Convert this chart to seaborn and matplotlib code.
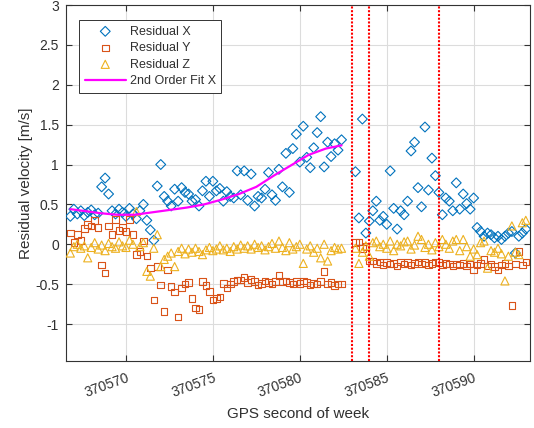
import numpy as np
import pandas as pd
import matplotlib
matplotlib.use("Agg")
import matplotlib.pyplot as plt
import seaborn as sns

# ---- data -------------------------------------------------------------
# epochs: two contiguous 5 Hz blocks separated by a short outage
block_a_start, block_a_len = 370566.8, 79
block_b_start, block_b_len = 370583.2, 50
sample_step = 0.2

res_x_a = [0.35, 0.44, 0.38, 0.42, 0.36,
           0.40, 0.43, 0.37, 0.39, 0.72,
           0.83, 0.63, 0.42, 0.38, 0.44,
           0.40, 0.35, 0.45, 0.38, 0.32,
           0.42, 0.50, 0.30, 0.18, 0.05,
           0.73, 1.00, 0.60, 0.54, 0.48,
           0.69, 0.54, 0.71, 0.65, 0.63,
           0.54, 0.56, 0.48, 0.67, 0.79,
           0.60, 0.79, 0.67, 0.70, 0.54,
           0.66, 0.60, 0.58, 0.92, 0.62,
           0.92, 0.55, 0.88, 0.48, 0.60,
           0.58, 0.69, 0.90, 0.62, 0.55,
           0.94, 0.72, 1.14, 0.65, 1.20,
           1.38, 1.03, 1.48, 1.09, 0.96,
           1.21, 1.40, 1.60, 0.97, 1.28,
           1.10, 1.26, 1.18, 1.31]
res_y_a = [0.14, 0.02, 0.12, 0.05, 0.20,
           0.25, 0.23, 0.30, 0.21, -0.26,
           -0.36, 0.23, 0.12, 0.31, 0.17,
           0.21, 0.16, 0.31, 0.12, -0.13,
           -0.09, 0.04, -0.15, -0.30, -0.70,
           -0.28, -0.51, -0.84, -0.32, -0.53,
           -0.60, -0.91, -0.55, -0.50, -0.48,
           -0.68, -0.80, -0.82, -0.47, -0.52,
           -0.59, -0.70, -0.68, -0.66, -0.49,
           -0.55, -0.50, -0.47, -0.45, -0.45,
           -0.42, -0.48, -0.44, -0.47, -0.51,
           -0.49, -0.46, -0.48, -0.50, -0.47,
           -0.39, -0.47, -0.46, -0.48, -0.50,
           -0.47, -0.49, -0.46, -0.48, -0.51,
           -0.49, -0.50, -0.47, -0.34, -0.50,
           -0.48, -0.52, -0.50, -0.50]
res_z_a = [-0.11, -0.03, 0.00, -0.05, -0.02,
           -0.17, -0.04, 0.02, -0.06, -0.01,
           -0.08, 0.01, -0.03, -0.05, 0.03,
           -0.02, -0.04, 0.05, 0.00, 0.41,
           -0.03, 0.02, -0.34, -0.40, -0.05,
           0.12, -0.28, -0.19, -0.15, -0.11,
           -0.28, -0.09, -0.05, -0.12, -0.06,
           -0.10, -0.05, -0.09, -0.13, -0.07,
           -0.04, -0.08, -0.06, -0.02, -0.07,
           -0.05, -0.09, -0.03, -0.06, -0.01,
           -0.05, -0.02, -0.06, 0.00, -0.04,
           -0.02, -0.07, -0.03, 0.01, -0.05,
           0.04, -0.04, -0.08, 0.02, -0.06,
           -0.03, 0.00, -0.24, -0.06, -0.02,
           -0.10, -0.05, -0.17, 0.00, -0.21,
           -0.08, -0.04, -0.06, -0.05]

res_x_b = [0.91, 0.33, 1.57, 0.14, 0.29,
           0.42, 0.54, 0.30, 0.35, 0.25,
           0.92, 0.45, 0.19, 0.42, 0.37,
           0.54, 1.17, 1.28, 0.71, 0.47,
           1.47, 0.68, 1.08, 0.86, 0.65,
           0.37, 0.58, 0.54, 0.42, 0.77,
           0.44, 0.63, 0.51, 0.44, 0.58,
           0.21, 0.16, 0.10, 0.14, 0.12,
           0.08, 0.10, 0.06, 0.10, 0.14,
           0.16, -0.11, 0.10, 0.14, 0.19]
res_y_b = [0.02, 0.03, -0.05, -0.03, -0.21,
           -0.21, -0.24, -0.22, -0.26, -0.23,
           -0.25, -0.24, -0.27, -0.22, -0.25,
           -0.23, -0.26, -0.24, -0.22, -0.25,
           -0.23, -0.26, -0.24, -0.22, -0.23,
           -0.26, -0.24, -0.25, -0.27, -0.25,
           -0.26, -0.24, -0.27, -0.25, -0.32,
           -0.26, -0.24, -0.19, -0.27, -0.25,
           -0.28, -0.32, -0.26, -0.24, -0.27,
           -0.77, -0.25, -0.09, -0.26, -0.22]
res_z_b = [-0.05, -0.24, -0.10, -0.02, -0.15,
           0.02, 0.04, -0.03, 0.00, -0.05,
           0.04, -0.08, 0.00, -0.02, 0.03,
           0.04, -0.06, -0.01, 0.10, 0.06,
           -0.04, 0.00, -0.07, 0.02, -0.03,
           0.06, 0.00, -0.05, 0.04, 0.06,
           -0.08, 0.06, -0.03, -0.15, -0.06,
           -0.13, 0.02, 0.04, -0.30, -0.08,
           -0.10, -0.05, -0.12, -0.46, -0.15,
           0.23, -0.10, -0.13, 0.27, 0.30]

# second-order fit of the X residual over the first block
fit_t = [370566.8, 370567.5, 370568.5, 370569.5, 370570.5, 370571.5,
         370572.5, 370573.5, 370574.5, 370575.5, 370576.5, 370577.5,
         370578.5, 370579.5, 370580.5, 370581.5, 370582.4]
fit_x = [0.44, 0.42, 0.39, 0.37, 0.37, 0.40, 0.43, 0.46, 0.50, 0.56,
         0.63, 0.72, 0.86, 0.99, 1.12, 1.20, 1.24]

# outage / event markers
event_times = [370583.0, 370584.0, 370588.0]

x_ticks = [370570, 370575, 370580, 370585, 370590]
y_ticks = [-1, -0.5, 0, 0.5, 1, 1.5, 2, 2.5, 3]
x_limits = (370566.55, 370593.27)
y_limits = (-1.47, 3.0)

# ---- assemble -----------------------------------------------------------
t_a = np.round(block_a_start + sample_step * np.arange(block_a_len), 1)
t_b = np.round(block_b_start + sample_step * np.arange(block_b_len), 1)
df = pd.DataFrame({
    "t": np.concatenate([t_a, t_b]),
    "x": res_x_a + res_x_b,
    "y": res_y_a + res_y_b,
    "z": res_z_a + res_z_b,
})
fit_df = pd.DataFrame({"t": fit_t, "fit": fit_x})

# ---- styling ------------------------------------------------------------
sns.set_theme(style="white")
plt.rcParams["font.family"] = ["Liberation Sans", "DejaVu Sans"]
text_c = "#303030"
c_x, c_y, c_z = "#0072BD", "#D95319", "#EDB120"

fig = plt.figure(figsize=(5.34, 4.28), dpi=100)
ax = fig.add_axes([0.1236, 0.1554, 0.8698, 0.8329])

sns.scatterplot(data=df, x="t", y="x", marker="D", s=25, facecolors="none",
                edgecolor=c_x, linewidth=0.8, label="Residual X", ax=ax, zorder=3)
sns.scatterplot(data=df, x="t", y="y", marker="s", s=22, facecolors="none",
                edgecolor=c_y, linewidth=0.8, label="Residual Y", ax=ax, zorder=3)
sns.scatterplot(data=df, x="t", y="z", marker="^", s=34, facecolors="none",
                edgecolor=c_z, linewidth=0.8, label="Residual Z", ax=ax, zorder=3)
sns.lineplot(data=fit_df, x="t", y="fit", color="#FF00FF", linewidth=1.6,
             label="2nd Order Fit X", ax=ax, zorder=4)

for et in event_times:
    ax.axvline(et, color="red", linestyle=(0, (1, 0.8)), linewidth=1.5, zorder=5)

ax.set_xlim(*x_limits)
ax.set_ylim(*y_limits)
ax.set_xticks(x_ticks)
ax.set_xticklabels([str(v) for v in x_ticks], rotation=20, ha="right",
                   va="top", rotation_mode="anchor")
ax.set_yticks(y_ticks)
ax.set_yticklabels([f"{v:g}" for v in y_ticks])

ax.grid(True, color="#dcdcdc", linewidth=0.8)
ax.set_axisbelow(True)
for sp in ax.spines.values():
    sp.set_color("#333333")
    sp.set_linewidth(0.8)
ax.tick_params(direction="in", length=4, width=0.8, color="#333333",
               top=True, right=True, bottom=True, left=True,
               labelsize=10, labelcolor=text_c)
ax.tick_params(axis="x", pad=7)
ax.tick_params(axis="y", pad=5)

ax.set_xlabel("GPS second of week", fontsize=11, color=text_c)
ax.set_ylabel("Residual velocity [m/s]", fontsize=11, color=text_c)
# label anchors in axes fraction
ax.xaxis.set_label_coords(0.5, -0.128)
ax.yaxis.set_label_coords(-0.072, 0.5)

leg = ax.legend(loc="upper left", bbox_to_anchor=(0.028, 0.958),
                borderaxespad=0, fontsize=9, frameon=True, fancybox=False,
                framealpha=1, edgecolor="#333333", handlelength=3.3,
                handletextpad=0.3, labelspacing=0.36, borderpad=0.45)
leg.get_frame().set_linewidth(0.7)
for txt in leg.get_texts():
    txt.set_color(text_c)

fig.savefig("out.png", dpi=100)
